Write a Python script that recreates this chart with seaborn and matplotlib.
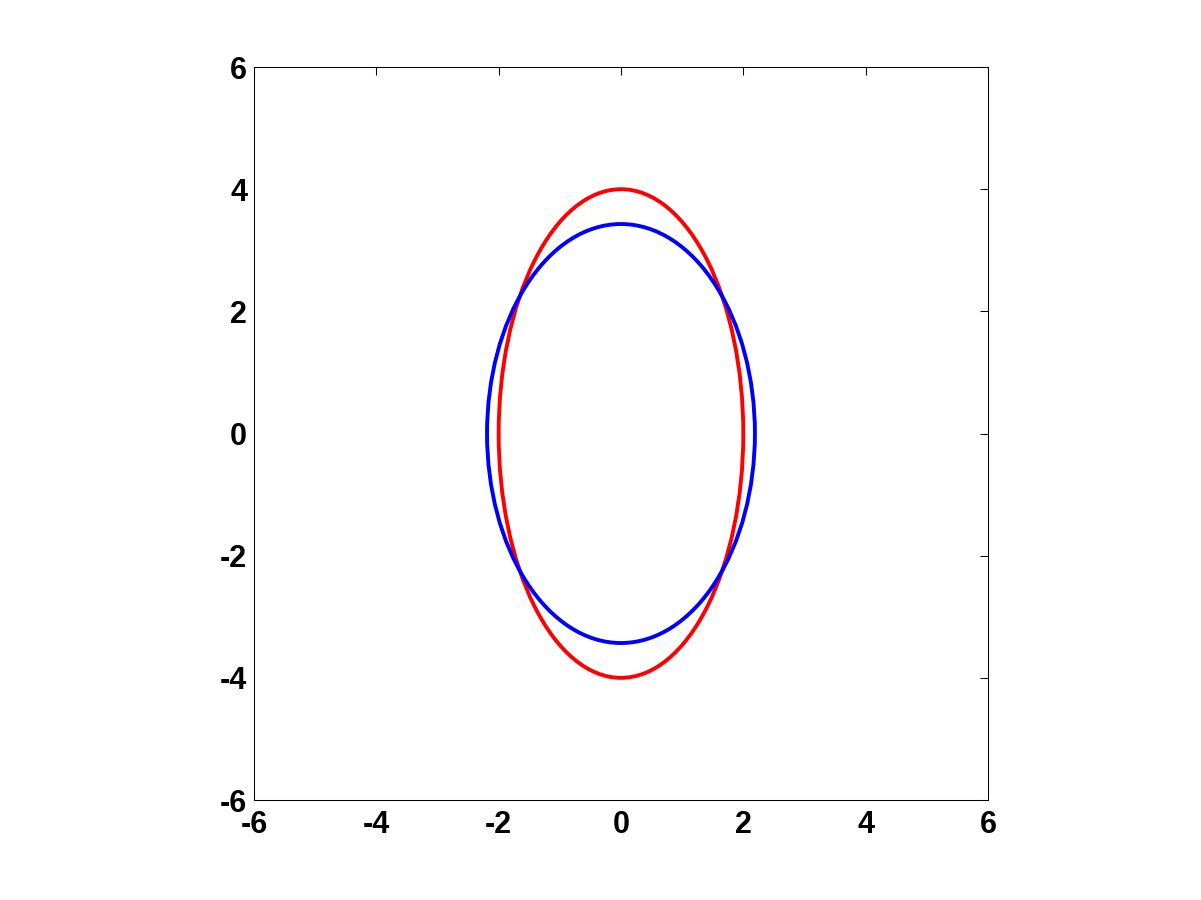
import matplotlib
matplotlib.use("Agg")
import matplotlib.pyplot as plt
from matplotlib.patches import Ellipse
import seaborn as sns

# ellipse parameters
names = ["red", "blue"]
centers_x = [0.0, 0.0]
centers_y = [0.0, 0.0]
semi_x = [2.0, 2.19]
semi_y = [4.0, 3.43]
colors = ["#ff0000", "#0000ff"]

ticks = [-6, -4, -2, 0, 2, 4, 6]

sns.set_style("white")
plt.rcParams["font.family"] = ["Liberation Sans", "DejaVu Sans"]
plt.rcParams["axes.unicode_minus"] = False

fig = plt.figure(figsize=(12.01, 9), dpi=100)
ax = fig.add_axes([0.2115, 0.1111, 0.6111, 0.8144])

for cx, cy, a, b, c in zip(centers_x, centers_y, semi_x, semi_y, colors):
    ax.add_patch(Ellipse((cx, cy), 2 * a, 2 * b, fill=False,
                         edgecolor=c, linewidth=2.8))

ax.set_xlim(-6, 6)
ax.set_ylim(-6, 6)
ax.set_xticks(ticks)
ax.set_yticks(ticks)
ax.set_xticklabels([str(t) for t in ticks], fontsize=22, fontweight="bold")
ax.set_yticklabels([str(t) for t in ticks], fontsize=22, fontweight="bold")
ax.tick_params(direction="in", length=5.8, width=0.75, colors="black",
               top=True, right=True)
ax.tick_params(axis="x", pad=7)
ax.tick_params(axis="y", pad=5)
for s in ax.spines.values():
    s.set_visible(True)
    s.set_color("black")
    s.set_linewidth(0.75)

fig.savefig("out.png", dpi=100, facecolor="white")
